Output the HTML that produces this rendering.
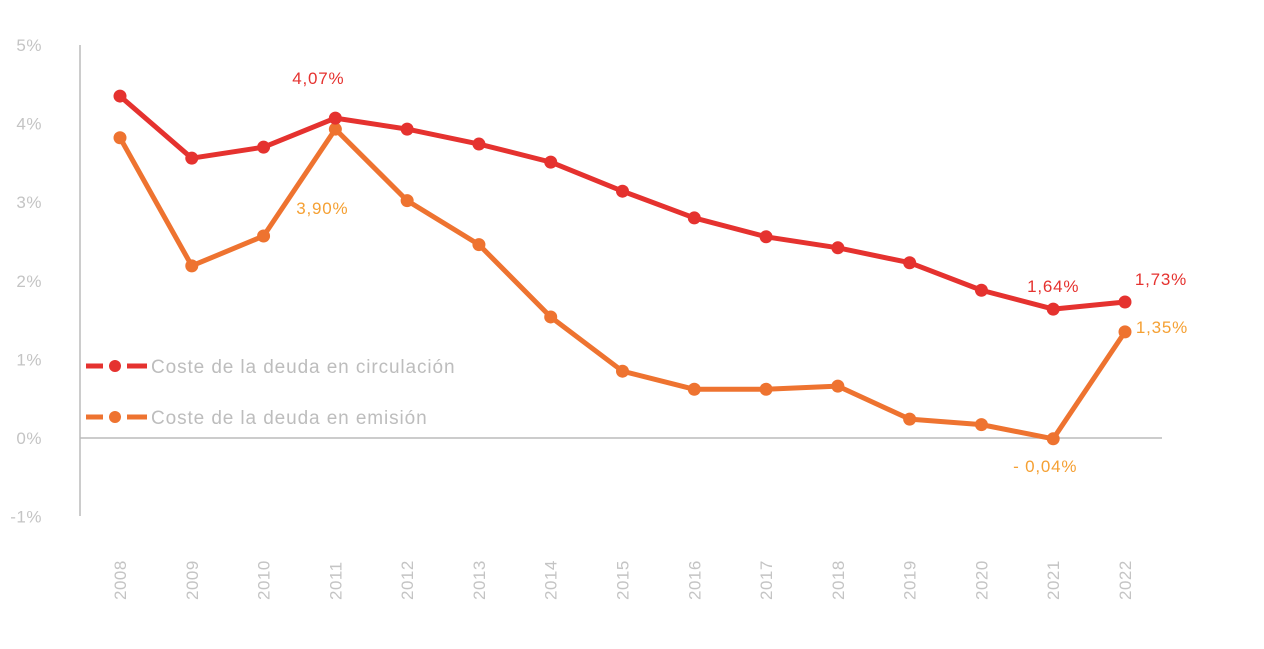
<!DOCTYPE html>
<html><head><meta charset="utf-8">
<style>
html,body{margin:0;padding:0;background:#fff;}
svg{display:block;font-family:"Liberation Sans",sans-serif;}
</style></head>
<body>
<svg id="chart" width="1264" height="649"></svg>
<script>
const years = ["2008","2009","2010","2011","2012","2013","2014","2015","2016","2017","2018","2019","2020","2021","2022"];
const circulacion = [4.35,3.56,3.70,4.07,3.93,3.74,3.51,3.14,2.80,2.56,2.42,2.23,1.88,1.64,1.73];
const emision = [3.82,2.19,2.57,3.93,3.02,2.46,1.54,0.85,0.62,0.62,0.66,0.24,0.17,-0.01,1.35];
const yTicks = [5,4,3,2,1,0,-1];
const yTickLabels = ["5%","4%","3%","2%","1%","0%","-1%"];

const NS = "http://www.w3.org/2000/svg";
const svg = document.getElementById("chart");
const x = i => 120 + i * (1125 - 120) / (years.length - 1);
const y = v => 438 - v * 78.6;
function mk(tag, attrs, parent) {
  const e = document.createElementNS(NS, tag);
  for (const k in attrs) e.setAttribute(k, attrs[k]);
  (parent || svg).appendChild(e);
  return e;
}
const RED = "#e5322f", ORANGE = "#ee7330", LORANGE = "#f5a033", GRAY = "#bdbdbd";

let ax = mk("line", {x1:80, y1:45, x2:80, y2:516, stroke:"#bbb", "stroke-width":1.5});


let zl = mk("line", {x1:80, y1:y(0), x2:1162, y2:y(0), stroke:"#bbb", "stroke-width":1.5});



yTicks.forEach((t, i) => {
  const tx = mk("text", {x:42, y:y(t) + 6, "text-anchor":"end", "font-size":17, fill:"#c4c4c4", "letter-spacing":0.5});
  tx.textContent = yTickLabels[i];
  
  
});
years.forEach((yr, i) => {
  const tx = mk("text", {transform:`translate(${x(i) + 6},600) rotate(-90)`, "font-size":17, fill:"#c4c4c4", "letter-spacing":0.5});
  tx.textContent = yr;
  
  
});

function series(vals, color, name) {
  const p = mk("polyline", {points: vals.map((v, i) => x(i) + "," + y(v)).join(" "), fill:"none", stroke:color, "stroke-width":5, "stroke-linejoin":"round"});
  
  
  vals.forEach((v, i) => {
    const c = mk("circle", {cx:x(i), cy:y(v), r:6.5, fill:color});
    
    
  });
}
series(emision, ORANGE, "emision");
series(circulacion, RED, "circulacion");

function label(txt, lx, ly, color, name) {
  const t = mk("text", {x:lx, y:ly, "font-size":17, fill:color, "text-anchor":"middle", "letter-spacing":0.8});
  t.textContent = txt;
  
  
}
label("4,07%", x(3) - 17, 84, RED, "label-2011-circulacion");
label("3,90%", x(3) - 13, 214, LORANGE, "label-2011-emision");
label("1,64%", x(13), 292, RED, "label-2021-circulacion");
label("1,73%", x(14) + 36, 285, RED, "label-2022-circulacion");
label("1,35%", x(14) + 37, 333, LORANGE, "label-2022-emision");
label("- 0,04%", x(13) - 8, 472, LORANGE, "label-2021-emision");

function legend(ly, color, txt, name) {
  const g = mk("g", {});
  
  
  mk("line", {x1:86, y1:ly, x2:103, y2:ly, stroke:color, "stroke-width":5}, g);
  mk("circle", {cx:115, cy:ly, r:6, fill:color}, g);
  mk("line", {x1:127, y1:ly, x2:147, y2:ly, stroke:color, "stroke-width":5}, g);
  const t = mk("text", {x:151, y:ly + 7, "font-size":19, fill:GRAY, "letter-spacing":0.9}, g);
  t.textContent = txt;
}
legend(366, RED, "Coste de la deuda en circulación", "legend-circulacion");
legend(417, ORANGE, "Coste de la deuda en emisión", "legend-emision");
</script>
</body></html>
